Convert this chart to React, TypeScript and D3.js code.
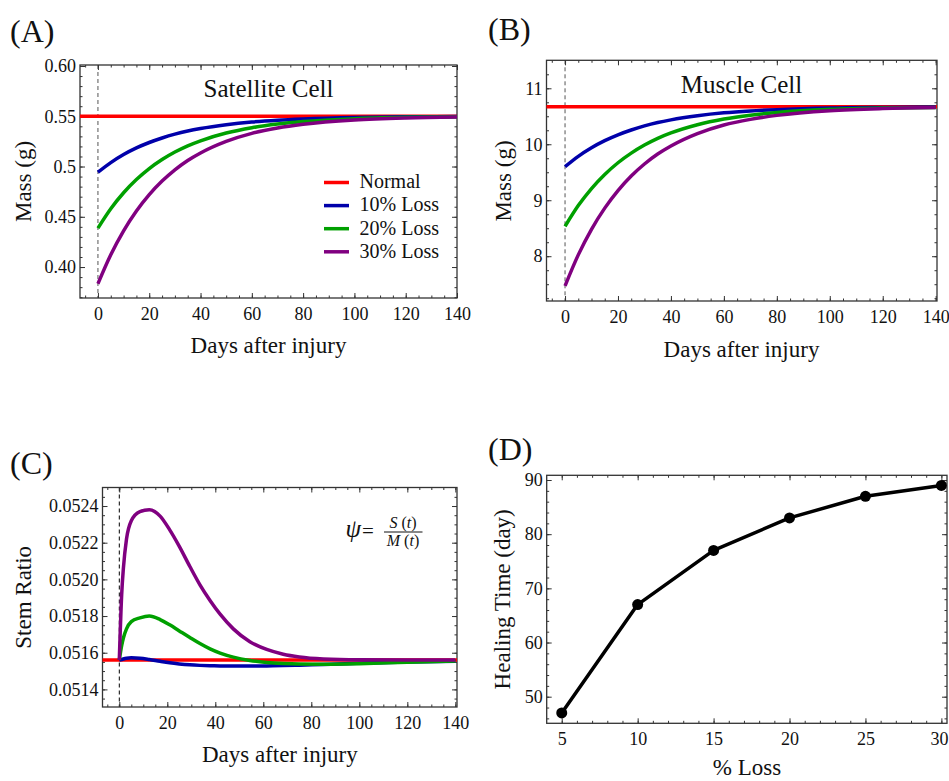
import { useEffect, useRef } from "react";
import * as d3 from "d3";

// ---- data ----
const DAYS = [0, 5, 10, 15, 20, 25, 30, 35, 40, 50, 60, 70, 80, 100, 120, 140];

const SAT_NORMAL = 0.55;
const SAT_LOSS10 = [0.4943, 0.5039, 0.5119, 0.5185, 0.5239, 0.5284, 0.5322, 0.5353, 0.5378, 0.5416, 0.5443, 0.5461, 0.5473, 0.5488, 0.5494, 0.5497];
const SAT_LOSS20 = [0.4387, 0.458, 0.4739, 0.487, 0.4979, 0.5069, 0.5144, 0.5206, 0.5256, 0.5333, 0.5386, 0.5422, 0.5447, 0.5476, 0.5489, 0.5494];
const SAT_LOSS30 = [0.3834, 0.4122, 0.436, 0.4557, 0.472, 0.4855, 0.4967, 0.506, 0.5135, 0.525, 0.533, 0.5383, 0.542, 0.5463, 0.5483, 0.5492];

const MUS_NORMAL = 10.67;
const MUS_LOSS10 = [9.6, 9.785, 9.938, 10.065, 10.169, 10.255, 10.328, 10.388, 10.436, 10.509, 10.561, 10.595, 10.618, 10.647, 10.658, 10.664];
const MUS_LOSS20 = [8.533, 8.904, 9.209, 9.46, 9.67, 9.842, 9.986, 10.106, 10.202, 10.349, 10.451, 10.52, 10.568, 10.624, 10.649, 10.658];
const MUS_LOSS30 = [7.47, 8.024, 8.481, 8.859, 9.172, 9.432, 9.647, 9.825, 9.969, 10.19, 10.344, 10.445, 10.516, 10.599, 10.637, 10.655];

const RATIO_DAYS = [0, 1, 1.7, 3, 5, 8.6, 12.5, 17, 21, 25, 29.4, 33.6, 37.8, 42, 47.5, 54.4, 61.4, 68.3, 75, 85, 100, 120, 140];
const RATIO_NORMAL = 0.05156;
const RATIO_LOSS10 = [0.05156, 0.051563, 0.051566, 0.05157, 0.051572, 0.05157, 0.051563, 0.051553, 0.051545, 0.051539, 0.051534, 0.051531, 0.051529, 0.051528, 0.051527, 0.051527, 0.051528, 0.05153, 0.051532, 0.051536, 0.051542, 0.051549, 0.051554];
const RATIO_LOSS20 = [0.05156, 0.05164, 0.05168, 0.05173, 0.05177, 0.05179, 0.0518, 0.051781, 0.051752, 0.051719, 0.051683, 0.05165, 0.051621, 0.051598, 0.051576, 0.051558, 0.051547, 0.051541, 0.051538, 0.051537, 0.05154, 0.051548, 0.051555];
const RATIO_LOSS30 = [0.05156, 0.05192, 0.05206, 0.05222, 0.05232, 0.05237, 0.05238, 0.052345, 0.05227, 0.05218, 0.05207, 0.05197, 0.051885, 0.05181, 0.05173, 0.05166, 0.051618, 0.051592, 0.051577, 0.051566, 0.051561, 0.05156, 0.05156];

const LOSS_PCT = [5, 10, 15, 20, 25, 30];
const HEAL_TIME = [47, 67, 77, 83, 87, 89];

// tick labels
const DAY_TICKS = [0, 20, 40, 60, 80, 100, 120, 140];
const SAT_TICKS = [0.4, 0.45, 0.5, 0.55, 0.6];
const SAT_TICK_LABELS = ["0.40", "0.45", "0.5", "0.55", "0.60"];
const MUS_TICKS = [8, 9, 10, 11];
const RATIO_TICKS = [0.0514, 0.0516, 0.0518, 0.052, 0.0522, 0.0524];
const LOSS_TICKS = [5, 10, 15, 20, 25, 30];
const HEAL_TICKS = [50, 60, 70, 80, 90];

const SERIES = [
  { label: "Normal", color: "#ff0000" },
  { label: "10% Loss", color: "#0000aa" },
  { label: "20% Loss", color: "#00a000" },
  { label: "30% Loss", color: "#800080" },
];

const FONT = "'Liberation Serif', 'Times New Roman', serif";
const FRAME = "#333";

type Sel = d3.Selection<SVGGElement, unknown, null, undefined>;

// Mathematica-style frame: inward ticks on all four sides
function drawFrame(g: Sel, x: any, y: any, o: any) {
  const [x0, x1] = x.range();
  const [yb, yt] = y.range();
  const major = 5, minor = 2.5;

  const axis = (gen: any, tx: number, ty: number) => {
    const a = g.append("g").attr("transform", `translate(${tx},${ty})`).call(gen);
    a.select(".domain").remove();
    a.attr("color", FRAME).attr("font-family", FONT).attr("font-size", 18);
    a.selectAll("line").attr("stroke-width", 1);
    return a;
  };

  // minor ticks
  axis(d3.axisBottom(x).tickValues(o.xMinor).tickSize(-minor).tickFormat(() => ""), 0, yb);
  axis(d3.axisTop(x).tickValues(o.xMinor).tickSize(-minor).tickFormat(() => ""), 0, yt);
  axis(d3.axisLeft(y).tickValues(o.yMinor).tickSize(-minor).tickFormat(() => ""), x0, 0);
  axis(d3.axisRight(y).tickValues(o.yMinor).tickSize(-minor).tickFormat(() => ""), x1, 0);

  // major ticks + labels
  const bx = axis(d3.axisBottom(x).tickValues(o.xMajor).tickSize(-major).tickPadding(9)
    .tickFormat((d: any, i: number) => (o.xLabels ? o.xLabels[i] : String(d))), 0, yb);
  bx.selectAll("text").attr("fill", "#111");
  if (o.lastDx) bx.selectAll("text").filter((_: any, i: number, n: any) => i === n.length - 1).attr("dx", o.lastDx);
  axis(d3.axisTop(x).tickValues(o.xMajor).tickSize(-major).tickFormat(() => ""), 0, yt);
  const ly = axis(d3.axisLeft(y).tickValues(o.yMajor).tickSize(-major).tickPadding(4)
    .tickFormat((d: any, i: number) => (o.yLabels ? o.yLabels[i] : String(d))), x0, 0);
  ly.selectAll("text").attr("fill", "#111");
  axis(d3.axisRight(y).tickValues(o.yMajor).tickSize(-major).tickFormat(() => ""), x1, 0);

  g.append("rect")
    .attr("x", x0).attr("y", yt)
    .attr("width", x1 - x0).attr("height", yb - yt)
    .attr("fill", "none").attr("stroke", FRAME).attr("stroke-width", 1.3);
}

function addText(g: Sel, x: number, y: number, txt: string, size: number, opts: any = {}) {
  const t = g.append("text")
    .attr("x", x).attr("y", y)
    .attr("font-family", FONT)
    .attr("font-size", size)
    .attr("fill", "#111")
    .attr("text-anchor", opts.anchor || "middle")
    .text(txt);
  if (opts.rotate) t.attr("transform", `rotate(-90,${x},${y})`);
  if (opts.italic) t.attr("font-style", "italic");
  return t;
}

export default function App() {
  const svgRef = useRef<SVGSVGElement>(null);

  useEffect(() => {
    const svg = d3.select(svgRef.current);
    svg.selectAll("*").remove();
    const root = svg.append("g") as unknown as Sel;

    const dayMinor = d3.range(-5, 141, 5);

    // shared drawing for the three time-course panels
    const timePanel = (box: any, xDom: number[], yDom: number[], normal: number, series: number[][], days: number[], yOpts: any, dashColor: string) => {
      const x = d3.scaleLinear().domain(xDom).range([box.left, box.right]);
      const y = d3.scaleLinear().domain(yDom).range([box.bottom, box.top]);
      const g = root.append("g") as unknown as Sel;

      g.append("line")
        .attr("x1", x(0)).attr("x2", x(0))
        .attr("y1", box.top).attr("y2", box.bottom)
        .attr("stroke", dashColor).attr("stroke-width", 1)
        .attr("stroke-dasharray", "4,3");

      drawFrame(g, x, y, { xMajor: DAY_TICKS, xMinor: dayMinor, ...yOpts });

      g.append("line")
        .attr("x1", x(xDom[0])).attr("x2", x(xDom[1]))
        .attr("y1", y(normal)).attr("y2", y(normal))
        .attr("stroke", SERIES[0].color).attr("stroke-width", 3.5);

      const line = d3.line<number>()
        .x((_, i) => x(days[i]))
        .y((d) => y(d))
        .curve(d3.curveMonotoneX);

      series.forEach((vals, k) => {
        g.append("path")
          .datum(vals)
          .attr("fill", "none")
          .attr("stroke", SERIES[k + 1].color)
          .attr("stroke-width", 3.5)
          .attr("stroke-linejoin", "round")
          .attr("d", line);
      });
      return g;
    };

    // ----- (A) Satellite cell -----
    const gA = timePanel(
      { left: 80, right: 457, top: 65, bottom: 298 },
      [-7, 140], [0.3692, 0.601], SAT_NORMAL,
      [SAT_LOSS10, SAT_LOSS20, SAT_LOSS30], DAYS,
      { yMajor: SAT_TICKS, yMinor: d3.range(0.37, 0.6001, 0.01), yLabels: SAT_TICK_LABELS },
      "#555"
    );
    addText(gA, 268.5, 96.5, "Satellite Cell", 25);
    addText(gA, 268.5, 353, "Days after injury", 23);
    addText(gA, 31, 181.5, "Mass (g)", 23, { rotate: true });
    addText(gA, 10, 41.5, "(A)", 32, { anchor: "start" });
    SERIES.forEach((s, i) => {
      const by = 188.3 + i * 23.1;
      gA.append("line")
        .attr("x1", 324).attr("x2", 349)
        .attr("y1", by - 5.8).attr("y2", by - 5.8)
        .attr("stroke", s.color).attr("stroke-width", 3.5);
      addText(gA, 359.5, by, s.label, 20, { anchor: "start" });
    });

    // ----- (B) Muscle cell -----
    const gB = timePanel(
      { left: 546.5, right: 937, top: 60.3, bottom: 301 },
      [-7, 140.5], [7.2, 11.5], MUS_NORMAL,
      [MUS_LOSS10, MUS_LOSS20, MUS_LOSS30], DAYS,
      { yMajor: MUS_TICKS, yMinor: d3.range(7.25, 11.5, 0.25) },
      "#555"
    );
    addText(gB, 741.5, 92.5, "Muscle Cell", 25);
    addText(gB, 741.5, 356.5, "Days after injury", 23);
    addText(gB, 510.5, 181, "Mass (g)", 23, { rotate: true });
    addText(gB, 488, 39.5, "(B)", 32, { anchor: "start" });

    // ----- (C) Stem ratio -----
    const gC = timePanel(
      { left: 102.5, right: 457, top: 487.5, bottom: 707 },
      [-7, 140.7], [0.051304, 0.052501], RATIO_NORMAL,
      [RATIO_LOSS10, RATIO_LOSS20, RATIO_LOSS30], RATIO_DAYS,
      { yMajor: RATIO_TICKS, yMinor: d3.range(0.05135, 0.0525, 0.00005), yLabels: RATIO_TICKS.map(d3.format(".4f")) },
      "#000"
    );
    addText(gC, 279.8, 761.5, "Days after injury", 23);
    addText(gC, 31, 597.3, "Stem Ratio", 23, { rotate: true });
    addText(gC, 10, 473.5, "(C)", 32, { anchor: "start" });
    // psi = S(t) / M(t)
    addText(gC, 345.5, 537, "ψ", 25, { anchor: "start", italic: true });
    addText(gC, 362, 538, "=", 21, { anchor: "start" });
    gC.append("line")
      .attr("x1", 384).attr("x2", 422.5)
      .attr("y1", 532).attr("y2", 532)
      .attr("stroke", "#111").attr("stroke-width", 1);
    const num = addText(gC, 403, 528, "", 16);
    num.append("tspan").attr("font-style", "italic").text("S");
    num.append("tspan").text(" (");
    num.append("tspan").attr("font-style", "italic").text("t");
    num.append("tspan").text(")");
    const den = addText(gC, 403, 545.5, "", 16);
    den.append("tspan").attr("font-style", "italic").text("M");
    den.append("tspan").text(" (");
    den.append("tspan").attr("font-style", "italic").text("t");
    den.append("tspan").text(")");

    // ----- (D) Healing time -----
    const boxD = { left: 546.7, right: 947, top: 475.3, bottom: 723.3 };
    const xD = d3.scaleLinear().domain([4.01, 30.37]).range([boxD.left, boxD.right]);
    const yD = d3.scaleLinear().domain([45.09, 90.87]).range([boxD.bottom, boxD.top]);
    const gD = root.append("g") as unknown as Sel;
    drawFrame(gD, xD, yD, {
      xMajor: LOSS_TICKS, xMinor: d3.range(5, 31, 1),
      yMajor: HEAL_TICKS, yMinor: d3.range(46, 91, 2),
      lastDx: -2.5,
    });
    const pts = LOSS_PCT.map((p, i) => [p, HEAL_TIME[i]] as [number, number]);
    gD.append("path")
      .datum(pts)
      .attr("fill", "none")
      .attr("stroke", "#000")
      .attr("stroke-width", 3.5)
      .attr("stroke-linejoin", "round")
      .attr("d", d3.line().x((d) => xD(d[0])).y((d) => yD(d[1])));
    gD.selectAll("circle.pt")
      .data(pts)
      .join("circle")
      .attr("class", "pt")
      .attr("cx", (d) => xD(d[0]))
      .attr("cy", (d) => yD(d[1]))
      .attr("r", 5.5)
      .attr("fill", "#000");
    addText(gD, 747, 775, "% Loss", 23);
    addText(gD, 510.5, 599.3, "Healing Time (day)", 23, { rotate: true });
    addText(gD, 488, 459.5, "(D)", 32, { anchor: "start" });
  }, []);

  return (
    <svg
      ref={svgRef}
      width={949}
      height={781}
      style={{ position: "absolute", left: 0, top: 0, background: "#fff" }}
    />
  );
}
